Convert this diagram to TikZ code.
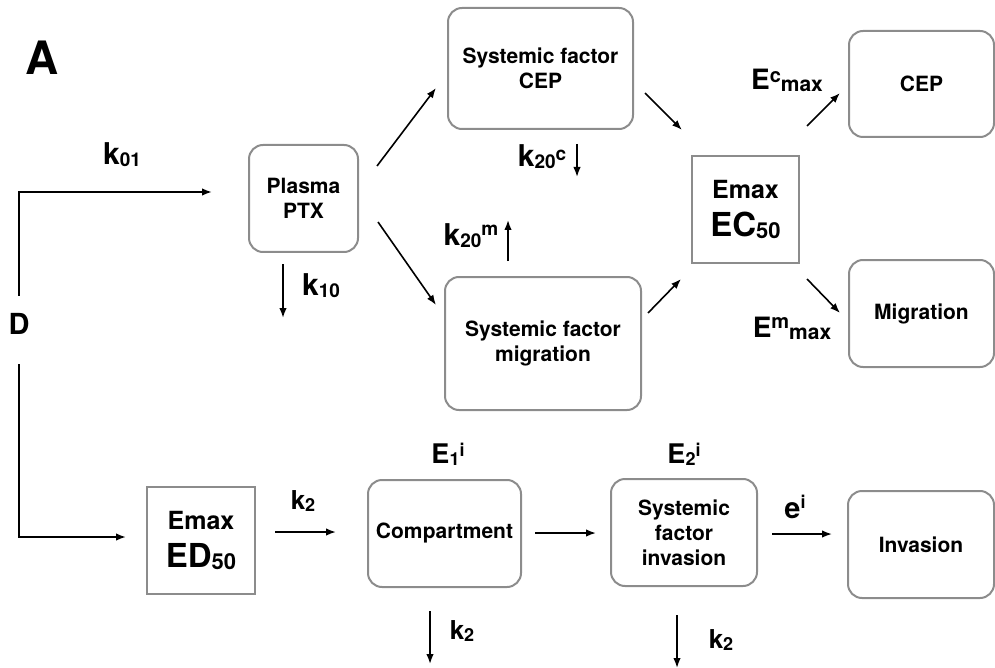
\documentclass[tikz,border=0pt]{standalone}
\usepackage{fontspec}
\setmainfont{TeX Gyre Heros}
\usetikzlibrary{arrows.meta}
\definecolor{boxgray}{RGB}{140,140,140}
\newcommand\lowtxt[2]{{\fontsize{#1}{#1}\selectfont\raisebox{-2pt}{#2}}}
\newcommand\hightxt[3]{{\fontsize{#1}{#1}\selectfont\raisebox{#2}{#3}}}
\begin{document}
\begin{tikzpicture}[x=1pt,y=-1pt,
  arr/.style={-{Latex[length=10pt,width=7.5pt]},line width=1.6pt},
  box/.style={draw=boxgray,line width=2pt,rounded corners=14pt,inner sep=0pt,align=center,
    font=\bfseries\fontsize{21}{25}\selectfont},
  sqbox/.style={draw=boxgray,line width=2pt,inner sep=0pt,align=center,
    minimum width=107pt,minimum height=107pt,font=\bfseries\fontsize{25}{38}\selectfont},
  lab/.style={inner sep=0pt,font=\bfseries\fontsize{30}{30}\selectfont},
  labs/.style={inner sep=0pt,font=\bfseries\fontsize{26}{26}\selectfont}]
\useasboundingbox (0,0) rectangle (995,668);
% labels
\node[inner sep=0pt,font=\bfseries\fontsize{46}{46}\selectfont] (A) at (42.5,57.5) {A};
\node[inner sep=0pt,font=\bfseries\fontsize{29}{29}\selectfont] (D) at (19,323.5) {D};
\node[lab] (k01) at (122,155) {k\lowtxt{19}{01}};
\node[lab] (k10) at (321,286) {k\lowtxt{19}{10}};
\node[lab] (k20c) at (542,157) {k\lowtxt{19}{20}\hightxt{19}{6pt}{c}};
\node[lab] (k20m) at (471,236) {k\lowtxt{19}{20}\hightxt{19}{10pt}{m}};
\node[lab,font=\bfseries\fontsize{28}{28}\selectfont] (Ec) at (787,80) {E\hightxt{20}{7pt}{c}\lowtxt{21}{max}};
\node[lab,font=\bfseries\fontsize{28}{28}\selectfont] (Em) at (792,328) {E\hightxt{20}{9pt}{m}\lowtxt{21}{max}};
\node[labs] (k2a) at (303,501) {k\lowtxt{18}{2}};
\node[labs,font=\bfseries\fontsize{27}{27}\selectfont] (E1) at (448,454) {E\lowtxt{18}{1}\hightxt{18}{7pt}{i}};
\node[labs,font=\bfseries\fontsize{27}{27}\selectfont] (E2) at (684,454) {E\lowtxt{18}{2}\hightxt{18}{7pt}{i}};
\node[labs,font=\bfseries\fontsize{29}{29}\selectfont] (ei) at (795,507) {e\hightxt{18}{10pt}{i}};
\node[labs] (k2b) at (462,631) {k\lowtxt{18}{2}};
\node[labs] (k2c) at (721,640) {k\lowtxt{18}{2}};
% boxes
\node[box,minimum width=109pt,minimum height=107pt] (plasma) at (303.5,198.5) {Plasma\\PTX};
\node[box,minimum width=185pt,minimum height=121pt] (sfcep) at (540.5,68.5) {Systemic factor\\CEP};
\node[box,minimum width=196pt,minimum height=133pt] (sfmig) at (543,343.5) {Systemic factor\\migration};
\node[sqbox] (ec50) at (745.5,209.5) {Emax\\{\fontsize{33}{38}\selectfont EC\lowtxt{22}{50}}};
\node[box,minimum width=145pt,minimum height=106pt] (cep) at (921.5,84) {CEP};
\node[box,minimum width=145pt,minimum height=107pt] (mig) at (921.5,313.5) {Migration};
\node[sqbox,minimum width=108pt] (ed50) at (201,540.5) {Emax\\{\fontsize{33}{38}\selectfont ED\lowtxt{22}{50}}};
\node[box,minimum width=153pt,minimum height=107pt] (comp) at (444.5,533.5) {Compartment};
\node[box,minimum width=146pt,minimum height=107pt] (sfinv) at (684,532.5) {Systemic\\factor\\invasion};
\node[box,minimum width=146pt,minimum height=107pt] (inv) at (921,544.5) {Invasion};
% connectors
\draw[arr] ([yshift=17pt]D.north) |- ([shift={(-36,-6.5)}]plasma.west);
\draw[arr] ([yshift=-30pt]D.south) |- ([shift={(-20,-3.5)}]ed50.west);
\draw[arr] ([shift={(18,22)}]plasma.north east) -- ([shift={(-11,-42)}]sfcep.south west);
\draw[arr] ([shift={(19,23.5)}]plasma.east) -- ([shift={(-8,29)}]sfmig.north west);
\draw[arr] ([shift={(-20.5,11)}]plasma.south) -- ++(0,54);
\draw[arr] ([shift={(36.5,14)}]sfcep.south) -- ++(0,33);
\draw[arr] ([shift={(-35,-15)}]sfmig.north) -- ++(0,-41);
\draw[arr] ([shift={(11,24.5)}]sfcep.east) -- ([shift={(-9,-25)}]ec50.north west);
\draw[arr] ([shift={(6,-30.5)}]sfmig.east) -- ([shift={(-10,15)}]ec50.south west);
\draw[arr] ([shift={(7,-29)}]ec50.north east) -- ([shift={(-8,9)}]cep.west);
\draw[arr] ([shift={(7,15)}]ec50.south east) -- ([shift={(-8,-0.5)}]mig.west);
\draw[arr] ([shift={(19,-8.5)}]ed50.east) -- ([shift={(-31,-1.5)}]comp.west);
\draw[arr] ([shift={(13,-0.5)}]comp.east) -- ([shift={(-14,0.5)}]sfinv.west);
\draw[arr] ([shift={(14,1.5)}]sfinv.east) -- ([shift={(-15,-10.5)}]inv.west);
\draw[arr] ([shift={(-14.5,23)}]comp.south) -- ++(0,53);
\draw[arr] ([shift={(-7,28)}]sfinv.south) -- ++(0,53);
\end{tikzpicture}
\end{document}
